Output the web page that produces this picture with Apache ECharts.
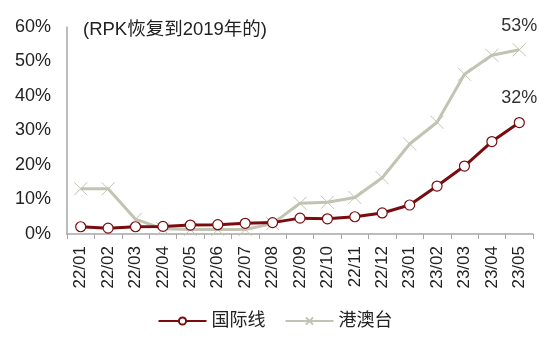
<!DOCTYPE html>
<html>
<head>
<meta charset="utf-8">
<script src="https://cdn.jsdelivr.net/npm/echarts@6/dist/echarts.min.js"></script>
<style>html,body{margin:0;padding:0;background:#fff}#c{width:550px;height:346px}</style>
</head>
<body>
<div id="c"></div>
<script>
const categories = ['22/01','22/02','22/03','22/04','22/05','22/06','22/07','22/08','22/09','22/10','22/11','22/12','23/01','23/02','23/03','23/04','23/05'];
const intl = [2.1, 1.7, 2.1, 2.2, 2.6, 2.7, 3.1, 3.3, 4.6, 4.4, 5.0, 6.1, 8.4, 13.9, 19.7, 26.8, 32.3];
const hkmt = [13.1, 13.1, 4.3, 1.5, 1.3, 1.3, 1.3, 3.0, 8.9, 9.2, 10.6, 16.3, 26.1, 32.4, 46.3, 51.8, 53.4];
const seriesNames = ['国际线', '港澳台'];
const titleText = '(RPK恢复到2019年的)';

const font = '"Liberation Sans", Arial, "Noto Sans CJK SC", sans-serif';
const red = '#7a0c10';
const gray = '#c3c3b3';
const xPath = 'path://M0,0L10,10M10,0L0,10';

function withLastLabel(arr, dist) {
  return arr.map((v, i) => i === arr.length - 1
    ? { value: v, label: { show: true, position: 'top', distance: dist, formatter: p => Math.round(p.value) + '%', fontSize: 18, color: '#333', fontFamily: font } }
    : v);
}

const chart = echarts.init(document.getElementById('c'), null, { renderer: 'canvas' });
chart.setOption({
  animation: false,
  backgroundColor: '#fff',
  grid: { left: 67, right: 17, top: 27, bottom: 112, containLabel: false },
  graphic: [{
    type: 'text', left: 83, top: 21,
    style: { text: titleText, fontSize: 18.5, fill: '#222', fontFamily: font }
  }],
  legend: {
    bottom: 11, left: 'center', itemWidth: 48, itemHeight: 9, itemGap: 19,
    textStyle: { fontSize: 18, color: '#222', fontFamily: font },
    data: seriesNames
  },
  xAxis: {
    type: 'category', data: categories, boundaryGap: true,
    axisLine: { lineStyle: { color: '#a6a6a6', width: 1.5 } },
    axisTick: { show: true, length: 5, lineStyle: { color: '#a6a6a6' } },
    axisLabel: { rotate: 90, interval: 0, fontSize: 17, color: '#222', fontFamily: font, margin: 12 }
  },
  yAxis: {
    type: 'value', min: 0, max: 60, interval: 10,
    axisLine: { show: true, lineStyle: { color: '#a6a6a6', width: 1.5 } },
    axisTick: { show: false },
    splitLine: { show: false },
    axisLabel: { formatter: '{value}%', fontSize: 18, color: '#222', fontFamily: font, margin: 16 }
  },
  series: [
    {
      name: seriesNames[0], type: 'line', data: withLastLabel(intl, 10),
      symbol: 'circle', symbolSize: 10, z: 3,
      lineStyle: { color: red, width: 3 },
      itemStyle: { color: '#fff', borderColor: red, borderWidth: 1.2 }
    },
    {
      name: seriesNames[1], type: 'line', data: withLastLabel(hkmt, 8),
      symbol: xPath, symbolSize: 13, z: 2,
      lineStyle: { color: gray, width: 3 },
      itemStyle: { color: gray, borderColor: gray, borderWidth: 1 }
    }
  ]
});
</script>
</body>
</html>
